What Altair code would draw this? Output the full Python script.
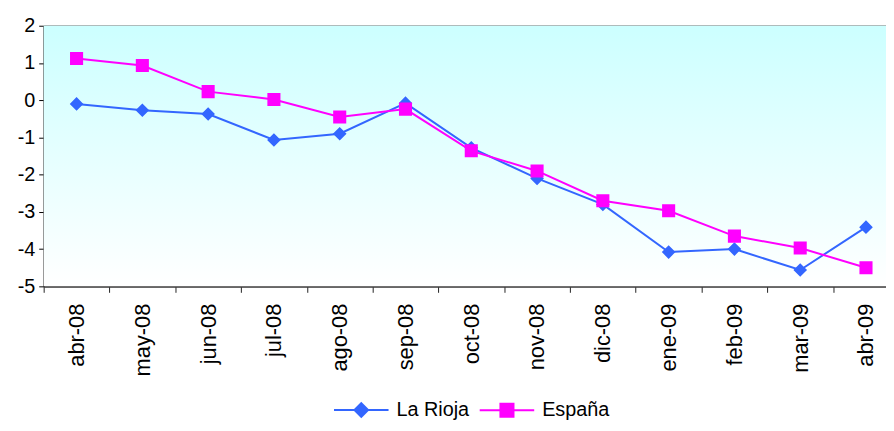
import altair as alt
import pandas as pd

months = ["abr-08", "may-08", "jun-08", "jul-08", "ago-08", "sep-08", "oct-08",
          "nov-08", "dic-08", "ene-09", "feb-09", "mar-09", "abr-09"]
la_rioja = [-0.10, -0.27, -0.37, -1.07, -0.90, -0.08, -1.28, -2.10, -2.80, -4.08, -4.00, -4.56, -3.41]
espana = [1.12, 0.93, 0.23, 0.02, -0.45, -0.24, -1.36, -1.90, -2.70, -2.97, -3.65, -3.97, -4.50]
series = ["La Rioja", "España"]
colors = ["#3366FF", "#FF00FF"]
y_ticks = [-5, -4, -3, -2, -1, 0, 1, 2]

rows = []
for s, vals in zip(series, [la_rioja, espana]):
    for i, (m, v) in enumerate(zip(months, vals)):
        rows.append({"mes": m, "idx": i, "serie": s, "valor": v})
df = pd.DataFrame(rows)

W, H = 850, 263
FONT = "Liberation Sans"

x_enc = alt.X("mes:N", sort=months, title=None,
              scale=alt.Scale(range=[0, 863], paddingInner=0, paddingOuter=0),
              axis=alt.Axis(tickBand="extent", labelAngle=270, labelFont=FONT,
                            labelFontSize=22, labelColor="black", labelPadding=11,
                            tickSize=6, tickColor="#222222", domainColor="#404040",
                            domainWidth=2, grid=False))
y_enc = alt.Y("valor:Q", title=None,
              scale=alt.Scale(domain=[-5, 2], nice=False, zero=False),
              axis=alt.Axis(values=y_ticks, labelExpr="'' + datum.value", labelFont=FONT,
                            labelFontSize=20, labelColor="black", labelPadding=4, tickSize=5,
                            tickColor="black", domainColor="black", domainWidth=1.5,
                            grid=True,
                            gridColor=alt.condition("datum.value == 2", alt.value("#888888"), alt.value("#A8A8A8")),
                            gridWidth=alt.condition("datum.value == 2", alt.value(2), alt.value(1))))

# marker paths incl. a horizontal line segment (line only visible in legend, where stroke is on)
path_d = "M-1,0H1M0,-0.25L0.25,0L0,0.25L-0.25,0Z"
path_s = "M-1,0H1M-0.24,-0.24H0.24V0.24H-0.24Z"

legend = alt.Legend(
    title=None, orient="none", legendX=292, legendY=359, direction="horizontal",
    symbolSize=3025, symbolStrokeWidth=2, symbolOpacity=1,
    labelFont=FONT, labelFontSize=20, labelColor="black", labelOffset=7,
    columnPadding=6)

bg = alt.Chart(pd.DataFrame({"k": [0]})).mark_rect(
    color=alt.LinearGradient(gradient="linear",
                             stops=[alt.GradientStop(color="#CCFFFF", offset=0),
                                    alt.GradientStop(color="#FFFFFF", offset=1)],
                             x1=0, x2=0, y1=0, y2=1)
).encode(x=alt.value(0), x2=alt.value(W), y=alt.value(0), y2=alt.value(H))

stroke_scale = alt.Scale(domain=series, range=colors)
base = alt.Chart(df)
lines = base.mark_line(strokeWidth=2).encode(
    x=x_enc, y=y_enc,
    stroke=alt.Stroke("serie:N", scale=stroke_scale, legend=legend),
    detail="serie:N", order=alt.Order("idx:Q"))
points = base.mark_point(filled=True, size=3025, opacity=1).encode(
    x=x_enc, y=y_enc,
    fill=alt.Fill("serie:N", scale=alt.Scale(domain=series, range=colors), legend=legend),
    stroke=alt.Stroke("serie:N", scale=stroke_scale, legend=legend),
    shape=alt.Shape("serie:N", scale=alt.Scale(domain=series, range=[path_d, path_s]), legend=legend),
    strokeWidth=alt.value(0))

chart = alt.layer(bg, lines, points).properties(
    width=W, height=H,
    autosize=alt.AutoSizeParams(type="none"),
    padding={"left": 36, "top": 16, "right": 0, "bottom": 136},
).configure_view(stroke=None).configure(background="white")

chart.save("out.html", embed_options={"renderer": "svg", "actions": False})
